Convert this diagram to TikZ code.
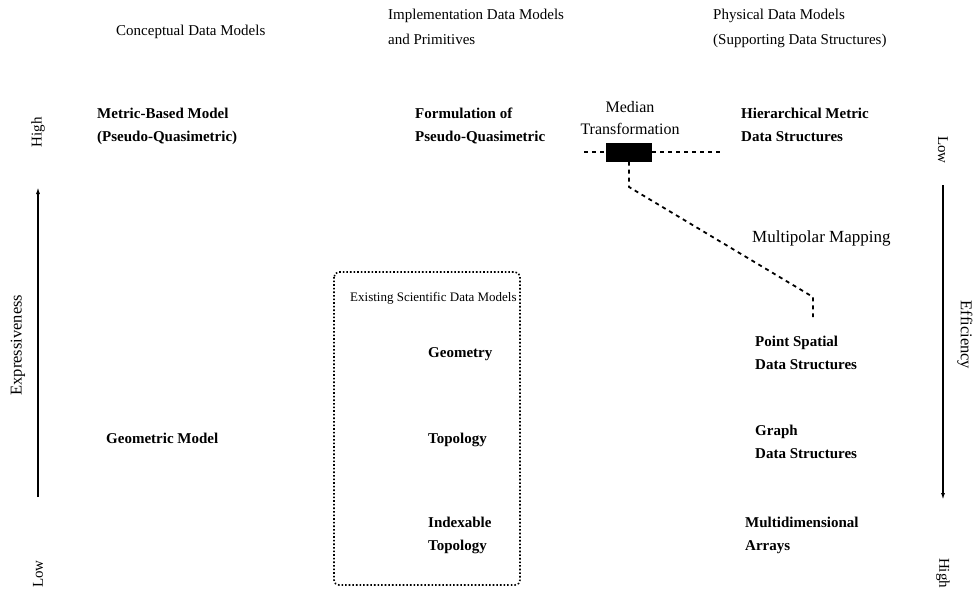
\documentclass[tikz,border=0pt]{standalone}
\usepackage{fontspec}
\setmainfont{Liberation Serif}
\usetikzlibrary{arrows.meta}
\begin{document}
\begin{tikzpicture}[x=1pt,y=-1pt,
  hdr/.style={font=\fontsize{15}{25}\selectfont,align=left,anchor=base west,inner sep=0pt},
  item/.style={font=\bfseries\fontsize{15}{23}\selectfont,align=left,anchor=base west,inner sep=0pt},
  lbl/.style={font=\fontsize{16}{22}\selectfont,inner sep=0pt},
  axislbl/.style={font=\fontsize{15}{18}\selectfont,inner sep=0pt},
  dashln/.style={line width=1.8pt,dash pattern=on 4pt off 4pt},
  axisln/.style={line width=2pt}]
\useasboundingbox (0,0) rectangle (978,589);
% headers (base anchor = baseline of last line)
\node[hdr] (conc) at (116,35) {Conceptual Data Models};
\node[hdr] (impl) at (388,45) {Implementation Data Models\\and Primitives};
\node[hdr] (phys) at (713,45) {Physical Data Models\\(Supporting Data Structures)};
% row items
\node[item] (metric) at (97,141) {Metric-Based Model\\(Pseudo-Quasimetric)};
\node[item] (form) at (415,141) {Formulation of\\Pseudo-Quasimetric};
\node[item] (hier) at (741,141) {Hierarchical Metric\\Data Structures};
\node[lbl,align=center,anchor=base] (medlbl) at (630,134) {Median\\Transformation};
\node[fill=black,minimum width=46pt,minimum height=19pt,inner sep=0pt] (mt) at (629,152) {};
\node[lbl,font=\fontsize{17}{20}\selectfont,anchor=base west] (multi) at (752,242) {Multipolar Mapping};
% existing box
\draw[line width=1.6pt,dotted,rounded corners=5pt] (334,272) rectangle (520,585);
\node[lbl,font=\fontsize{13}{15}\selectfont,anchor=base west] (exist) at (350,301) {Existing Scientific Data Models};
\node[item] (geom) at (428,357) {Geometry};
\node[item] (topo) at (428,443) {Topology};
\node[item] (itopo) at (428,550) {Indexable\\Topology};
\node[item] (geo) at (106,443) {Geometric Model};
\node[item] (psd) at (755,369) {Point Spatial\\Data Structures};
\node[item] (gds) at (755,458) {Graph\\Data Structures};
\node[item] (mda) at (745,550) {Multidimensional\\Arrays};
% connectors
\coordinate (cl) at (584,152);
\coordinate (cr) at (723,152);
\coordinate (c1) at (629,187);
\coordinate (c2) at (813,297);
\coordinate (c3) at (813,317);
\draw[dashln] (cl) -- (mt.west);
\draw[dashln] (mt.east) -- (cr);
\draw[dashln] (mt.south) -- (c1) -- (c2) -- (c3);
% left axis
\node[axislbl,rotate=90] (lhigh) at (38,132) {High};
\node[axislbl,rotate=90] (llow) at (38,574) {Low};
\node[axislbl,font=\fontsize{16.5}{18}\selectfont,rotate=90] (expr) at (18,345) {Expressiveness};
\coordinate (la) at (38,497);
\coordinate (lb) at (38,187);
\draw[axisln,-{Latex[length=7pt,width=4pt]}] (la) -- (lb);
% right axis
\node[axislbl,rotate=-90] (rlow) at (943,150) {Low};
\node[axislbl,rotate=-90] (rhigh) at (943,573) {High};
\node[axislbl,font=\fontsize{16.5}{18}\selectfont,rotate=-90] (eff) at (965,335) {Efficiency};
\coordinate (ra) at (943,185);
\coordinate (rb) at (943,500);
\draw[axisln,-{Latex[length=7pt,width=4pt]}] (ra) -- (rb);
\end{tikzpicture}
\end{document}
